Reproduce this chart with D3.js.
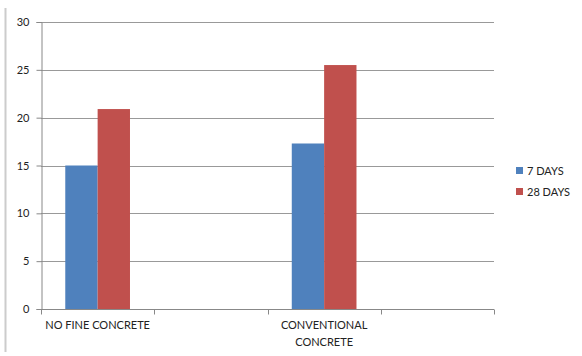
<!doctype html>
<html>
<head>
    <meta charset="utf-8">
    <title>Concrete strength</title>
    <script src="https://d3js.org/d3.v7.min.js"></script>
    <style>
        body {margin:0; background:#fff;}
        svg {display:block;}
        text {font-family:Lato, "Open Sans", sans-serif; fill:#222;}
        .axis text {font-size:11px;}
        .grid line {stroke:#999; shape-rendering:crispEdges;}
    </style>
</head>
<body>
<script>
    "use strict";
    var categories = ["NO FINE CONCRETE", "", "CONVENTIONAL CONCRETE", ""];
    var series = ["7 DAYS", "28 DAYS"];
    var days7 = [15.0, null, 17.3, null];
    var days28 = [20.9, null, 25.5, null];
    var yTicks = [0, 5, 10, 15, 20, 25, 30];
    var colors = ["#4f81bd", "#c0504d"];

    var width = 582, height = 356;
    var margin = {left: 41, right: 88, top: 22, bottom: 47};

    var svg = d3.select("body").append("svg")
        .attr("width", width).attr("height", height);

    // left frame edge
    svg.append("line")
        .attr("x1", 5.5).attr("x2", 5.5).attr("y1", 8).attr("y2", 352)
        .style("stroke", "#ccc").style("stroke-width", 2);

    var x = d3.scaleBand().domain(d3.range(categories.length))
        .range([margin.left, width - margin.right]);
    var y = d3.scaleLinear().domain([0, 30])
        .range([height - margin.bottom, margin.top]);

    // gridlines
    svg.append("g").attr("class", "grid")
        .selectAll("line").data(yTicks.slice(1)).enter().append("line")
        .attr("x1", margin.left).attr("x2", width - margin.right)
        .attr("y1", function(d) { return Math.round(y(d)) + 0.5; })
        .attr("y2", function(d) { return Math.round(y(d)) + 0.5; });

    // bars
    var barW = x.bandwidth() / 3.5;
    var data = [];
    categories.forEach(function(c, i) {
        [days7, days28].forEach(function(s, j) {
            if (s[i] != null) data.push({i: i, j: j, v: s[i]});
        });
    });
    svg.append("g").selectAll("rect").data(data).enter().append("rect")
        .attr("x", function(d) { return x(d.i) + x.bandwidth() / 2 - barW + d.j * barW; })
        .attr("width", barW)
        .attr("y", function(d) { return y(d.v); })
        .attr("height", function(d) { return y(0) - y(d.v); })
        .style("fill", function(d) { return colors[d.j]; });

    // y axis
    var yAxis = svg.append("g").attr("class", "axis")
        .attr("transform", "translate(" + (margin.left + 0.5) + ",0)")
        .call(d3.axisLeft(y).tickValues(yTicks).tickSize(5).tickPadding(7));
    yAxis.selectAll("line, path").style("stroke", "#888");

    // x axis
    var x0 = Math.round(y(0)) + 0.5;
    var xg = svg.append("g").attr("class", "axis");
    xg.append("line").attr("x1", margin.left).attr("x2", width - margin.right)
        .attr("y1", x0).attr("y2", x0).style("stroke", "#888");
    xg.selectAll("line.tick").data(d3.range(categories.length + 1)).enter().append("line")
        .attr("class", "tick")
        .attr("x1", function(d) { return Math.round(margin.left + d * x.step()) + 0.5; })
        .attr("x2", function(d) { return Math.round(margin.left + d * x.step()) + 0.5; })
        .attr("y1", x0).attr("y2", x0 + 5).style("stroke", "#888");

    var labels = xg.selectAll("text").data(categories).enter().append("text")
        .attr("text-anchor", "middle")
        .attr("x", function(d, i) { return x(i) + x.bandwidth() / 2; })
        .attr("y", 329);
    labels.each(function(d) {
        var t = d3.select(this);
        var lines = d === "CONVENTIONAL CONCRETE" ? ["CONVENTIONAL", "CONCRETE"] : [d];
        lines.forEach(function(l, k) {
            t.append("tspan").attr("x", t.attr("x")).attr("dy", k ? 17 : 0).text(l);
        });
    });

    // legend
    var lg = svg.append("g").selectAll("g").data(series).enter().append("g")
        .attr("transform", function(d, i) { return "translate(516," + (167 + i * 21) + ")"; });
    lg.append("rect").attr("width", 7).attr("height", 7)
        .style("fill", function(d, i) { return colors[i]; });
    lg.append("text").attr("x", 11).attr("y", 7.5)
        .style("font-size", "11px").text(function(d) { return d; });
</script>
</body>
</html>
